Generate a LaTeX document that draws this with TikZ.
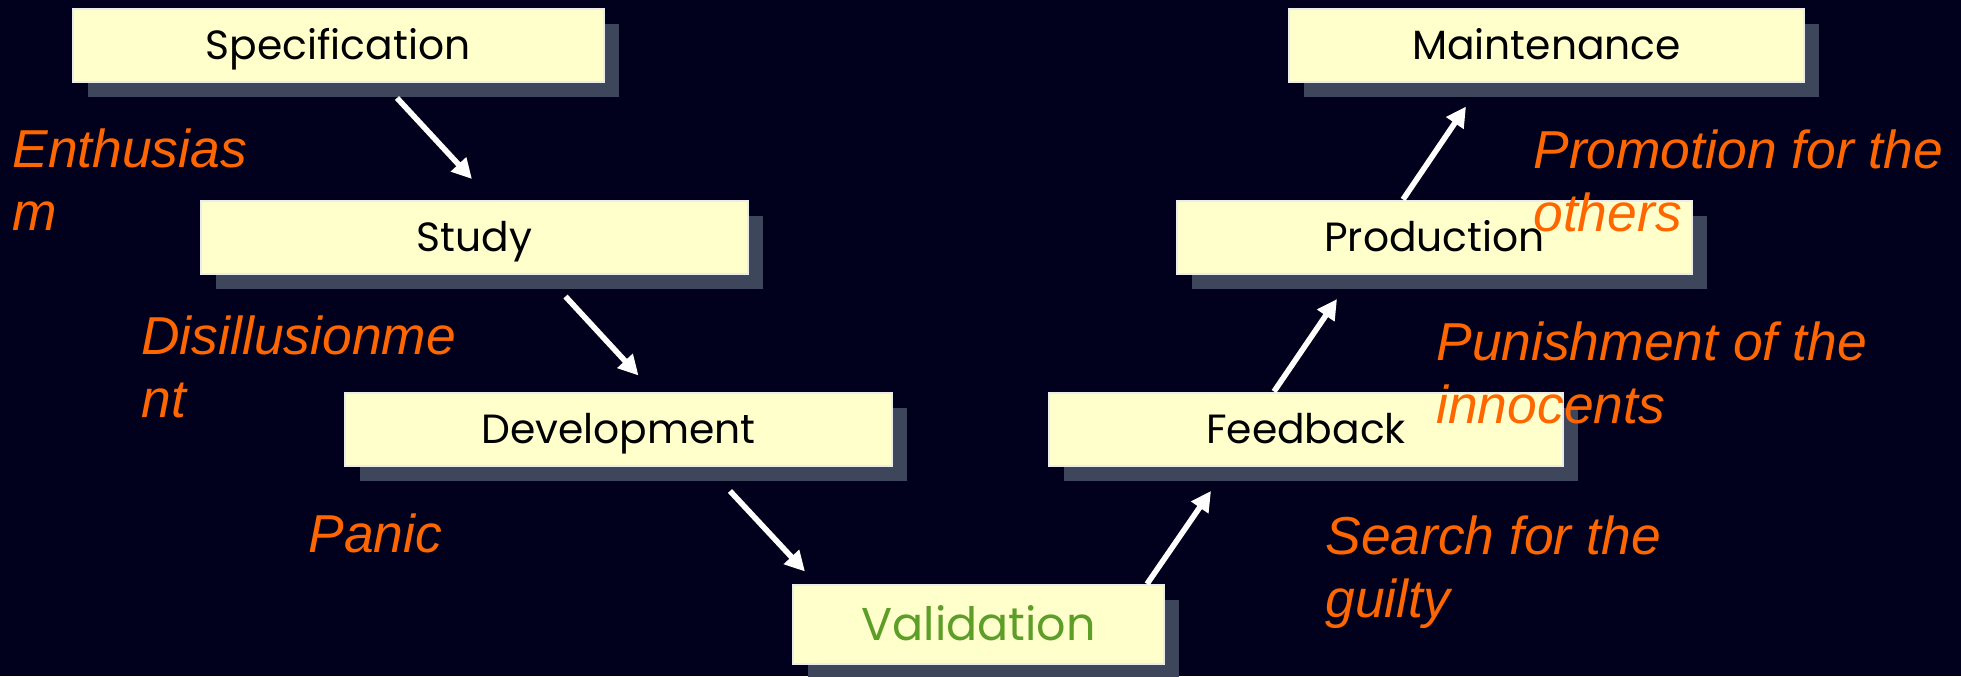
\documentclass[tikz,border=0pt]{standalone}
\usepackage{fontspec}
\setmainfont{Liberation Sans}
\newfontfamily\phasefont{Poppins}
\usetikzlibrary{arrows.meta, calc, shadows}

\definecolor{bgnavy}{RGB}{1,1,30}
\definecolor{boxyellow}{RGB}{255,255,204}
\definecolor{boxshadow}{RGB}{62,70,92}
\definecolor{moodorange}{RGB}{255,102,0}
\definecolor{valgreen}{RGB}{92,158,40}

\begin{document}
\begin{tikzpicture}[x=0.5pt, y=-0.5pt,
  phase/.style={draw=white!85!gray, line width=1pt, fill=boxyellow, inner sep=0pt,
    minimum height=36.5pt, text height=14.3pt, text depth=0pt,
    font=\phasefont\fontsize{20.4}{25}\selectfont,
    drop shadow={shadow xshift=7.5pt, shadow yshift=-7.5pt, fill=boxshadow, opacity=1}},
  mood/.style={anchor=base west, align=left, inner sep=0pt, text=moodorange,
    font=\itshape\fontsize{26.7}{31.5}\selectfont},
  flow/.style={draw=white, line width=2.8pt, -{Triangle[length=10pt, width=10pt]}}]
\useasboundingbox (0,0) rectangle (1961,676);
\fill[bgnavy] (0,0) rectangle (1961,676);

\node[phase, minimum width=265.5pt] (spec) at (338,45.5) {Specification};
\node[phase, minimum width=273.5pt] (study) at (474.5,237) {Study};
\node[phase, minimum width=273.5pt] (dev) at (618.5,429) {Development};
\node[phase, minimum width=185.5pt, minimum height=39.5pt, text height=16pt,
  text=valgreen, font=\phasefont\fontsize{23}{27}\selectfont] (val) at (978.5,624.5) {Validation};
\node[phase, minimum width=257pt] (feed) at (1306,429) {Feedback};
\node[phase, minimum width=257.5pt] (prod) at (1434.5,237) {Production};
\node[phase, minimum width=257.5pt] (maint) at (1546.5,45.5) {Maintenance};

\draw[flow] ($(spec.south)+(59,15)$) -- ($(study.north)+(-2.5,-20.5)$);
\draw[flow] ($(study.south)+(91,22)$) -- ($(dev.north)+(20,-16)$);
\draw[flow] ($(dev.south)+(111.5,24.5)$) -- ($(val.north)+(-173.5,-12.5)$);
\draw[flow] ($(val.north)+(168.5,0)$) -- ($(feed.south)+(-95,24.5)$);
\draw[flow] ($(feed.north)+(-32,0)$) -- ($(prod.south)+(-97.5,24.5)$);
\draw[flow] ($(prod.north)+(-31.5,0)$) -- ($(maint.south)+(-80.5,23.5)$);

\node[mood] (enth) at (12,230) {Enthusias\\m};
\node[mood] (disil) at (141,417) {Disillusionme\\nt};
\node[mood] (panic) at (308,552) {Panic};
\node[mood] (search) at (1325,617) {Search for the\\guilty};
\node[mood] (punish) at (1436,423) {Punishment of the\\innocents};
\node[mood] (promo) at (1533,231) {Promotion for the\\others};
\end{tikzpicture}
\end{document}
